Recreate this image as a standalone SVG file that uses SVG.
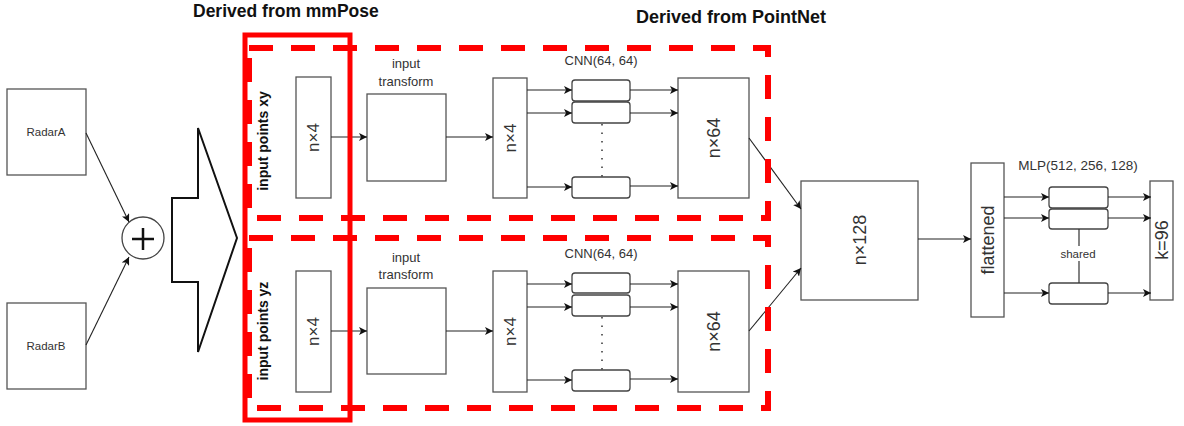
<svg xmlns="http://www.w3.org/2000/svg" width="1184" height="426" viewBox="0 0 1184 426">
<defs>
<style>
.box{fill:#fff;stroke:#555;stroke-width:1.3}
.rbox{fill:#fff;stroke:#444;stroke-width:1.3}
.lbl{font-family:"Liberation Sans",Arial,sans-serif;fill:#333;text-anchor:middle;dominant-baseline:central}
.big{font-size:18px}
.sm{font-size:13px}
.title{font-family:"Liberation Sans",Arial,sans-serif;font-weight:bold;font-size:17.5px;fill:#111}
.side{font-family:"Liberation Sans",Arial,sans-serif;font-weight:bold;font-size:14px;fill:#111;text-anchor:middle;dominant-baseline:central}
.con{stroke:#222;stroke-width:1.1;fill:none}
.arr{marker-end:url(#ah)}
.dash{fill:none;stroke:#ff0000;stroke-width:6;stroke-dasharray:24 18}
</style>
<marker id="ah" viewBox="0 0 10 10" refX="10" refY="5" markerWidth="8" markerHeight="8" markerUnits="userSpaceOnUse" orient="auto">
<path d="M0,0 L10,5 L0,10 L2.5,5 Z" fill="#111"/>
</marker>
</defs>
<rect width="1184" height="426" fill="#fff"/>

<text class="title" x="193" y="17">Derived from mmPose</text>
<text class="title" x="636" y="23" style="font-size:18px">Derived from PointNet</text>

<g id="radarA"><rect class="box" x="7" y="89" width="79" height="86"/><text class="lbl" x="46" y="132" style="font-size:11.5px">RadarA</text></g>
<g id="radarB"><rect class="box" x="7" y="303" width="79" height="86"/><text class="lbl" x="46" y="346" style="font-size:11.5px">RadarB</text></g>
<g id="plus"><circle cx="143" cy="238" r="21" fill="#fff" stroke="#444" stroke-width="1.3"/><path d="M132,239 H154 M143,228 V250" stroke="#111" stroke-width="2.5"/></g>
<g id="bigArrow"><path d="M172,198 H198 V128 L237,238 L198,352 V282 H172 Z" fill="#fff" stroke="#111" stroke-width="2"/></g>

<g id="in_xy"><rect class="box" x="296" y="77" width="35" height="121"/><text class="lbl big" transform="rotate(-90 313.5 137.5)" x="313.5" y="137.5" style="font-size:17px">n×4</text></g>
<g id="in_yz"><rect class="box" x="296" y="271" width="35" height="121"/><text class="lbl big" transform="rotate(-90 313.5 331.5)" x="313.5" y="331.5" style="font-size:17px">n×4</text></g>
<text class="side" transform="rotate(-90 263 141)" x="263" y="141">input points xy</text>
<text class="side" transform="rotate(-90 263 331)" x="263" y="331">input points yz</text>

<g id="tf_xy"><rect class="box" x="367" y="94" width="79" height="87"/><text class="lbl sm" x="406" y="63">input</text><text class="lbl sm" x="406" y="81">transform</text></g>
<g id="tf_yz"><rect class="box" x="367" y="288" width="79" height="86"/><text class="lbl sm" x="406" y="257">input</text><text class="lbl sm" x="406" y="274">transform</text></g>

<g id="m_xy"><rect class="box" x="493" y="78" width="34" height="120"/><text class="lbl big" transform="rotate(-90 510 138)" x="510" y="138" style="font-size:17px">n×4</text></g>
<g id="m_yz"><rect class="box" x="493" y="271" width="34" height="121"/><text class="lbl big" transform="rotate(-90 510 331.5)" x="510" y="331.5" style="font-size:17px">n×4</text></g>

<g id="cnn_xy">
<text class="lbl sm" x="601" y="60">CNN(64, 64)</text>
<rect class="rbox" x="572" y="80" width="58" height="21" rx="3"/>
<rect class="rbox" x="572" y="102" width="58" height="21" rx="3"/>
<rect class="rbox" x="572" y="177" width="58" height="21" rx="3"/>
<line x1="602" y1="124" x2="602" y2="177" stroke="#333" stroke-width="1.5" stroke-dasharray="1.5 7"/>
</g>
<g id="cnn_yz">
<text class="lbl sm" x="601" y="253">CNN(64, 64)</text>
<rect class="rbox" x="572" y="273" width="58" height="20" rx="3"/>
<rect class="rbox" x="572" y="295" width="58" height="21" rx="3"/>
<rect class="rbox" x="572" y="370" width="58" height="21" rx="3"/>
<line x1="602" y1="317" x2="602" y2="370" stroke="#333" stroke-width="1.5" stroke-dasharray="1.5 7"/>
</g>

<g id="f_xy"><rect class="box" x="678" y="78" width="71" height="120"/><text class="lbl big" transform="rotate(-90 713.5 138)" x="713.5" y="138">n×64</text></g>
<g id="f_yz"><rect class="box" x="678" y="271" width="71" height="121"/><text class="lbl big" transform="rotate(-90 713.5 331.5)" x="713.5" y="331.5">n×64</text></g>

<g id="n128"><rect class="box" x="801" y="181" width="117" height="119"/><text class="lbl big" transform="rotate(-90 859.5 240)" x="859.5" y="240">n×128</text></g>
<g id="flat"><rect class="box" x="971" y="163" width="33" height="154"/><text class="lbl big" transform="rotate(-90 987.5 240)" x="987.5" y="240">flattened</text></g>

<g id="mlp">
<text class="lbl" x="1078" y="165" style="font-size:13.5px">MLP(512, 256, 128)</text>
<rect class="rbox" x="1049" y="187" width="59" height="21" rx="3"/>
<rect class="rbox" x="1049" y="209" width="59" height="20" rx="3"/>
<rect class="rbox" x="1049" y="283" width="59" height="21" rx="3"/>
<path d="M1079,229 V246 M1079,261 V283" stroke="#333" stroke-width="1.2"/>
<text class="lbl" x="1078" y="253.5" style="font-size:11.5px">shared</text>
</g>
<g id="out"><rect class="box" x="1150" y="181" width="23" height="119"/><text class="lbl big" transform="rotate(-90 1161.5 240)" x="1161.5" y="240">k=96</text></g>

<g id="connectors">
<line class="con arr" x1="86" y1="133" x2="129" y2="222"/>
<line class="con arr" x1="86" y1="345" x2="129" y2="257"/>
<line class="con arr" x1="331" y1="137" x2="367" y2="137"/>
<line class="con arr" x1="331" y1="331" x2="367" y2="331"/>
<line class="con arr" x1="446" y1="137" x2="493" y2="137"/>
<line class="con arr" x1="446" y1="331" x2="493" y2="331"/>
<line class="con arr" x1="527" y1="90" x2="572" y2="90"/>
<line class="con arr" x1="527" y1="113" x2="572" y2="113"/>
<line class="con arr" x1="527" y1="187" x2="572" y2="187"/>
<line class="con arr" x1="630" y1="90" x2="678" y2="90"/>
<line class="con arr" x1="630" y1="113" x2="678" y2="113"/>
<line class="con arr" x1="630" y1="186" x2="678" y2="186"/>
<line class="con arr" x1="527" y1="284" x2="572" y2="284"/>
<line class="con arr" x1="527" y1="307" x2="572" y2="307"/>
<line class="con arr" x1="527" y1="380" x2="572" y2="380"/>
<line class="con arr" x1="630" y1="284" x2="678" y2="284"/>
<line class="con arr" x1="630" y1="307" x2="678" y2="307"/>
<line class="con arr" x1="630" y1="379" x2="678" y2="379"/>
<line class="con arr" x1="749" y1="138" x2="801" y2="209"/>
<line class="con arr" x1="749" y1="331" x2="801" y2="268"/>
<line class="con arr" x1="918" y1="239" x2="971" y2="239"/>
<line class="con arr" x1="1004" y1="197" x2="1049" y2="197"/>
<line class="con arr" x1="1004" y1="218" x2="1049" y2="218"/>
<line class="con arr" x1="1004" y1="293" x2="1049" y2="293"/>
<line class="con arr" x1="1108" y1="197" x2="1151" y2="197"/>
<line class="con arr" x1="1108" y1="218" x2="1151" y2="218"/>
<line class="con arr" x1="1108" y1="293" x2="1151" y2="293"/>
</g>

<g id="regions">
<rect class="dash" x="249" y="48" width="519" height="170"/>
<rect class="dash" x="249" y="238" width="519" height="170"/>
<rect x="245" y="35" width="105" height="385" fill="none" stroke="#ff0000" stroke-width="5"/>
</g>
</svg>
